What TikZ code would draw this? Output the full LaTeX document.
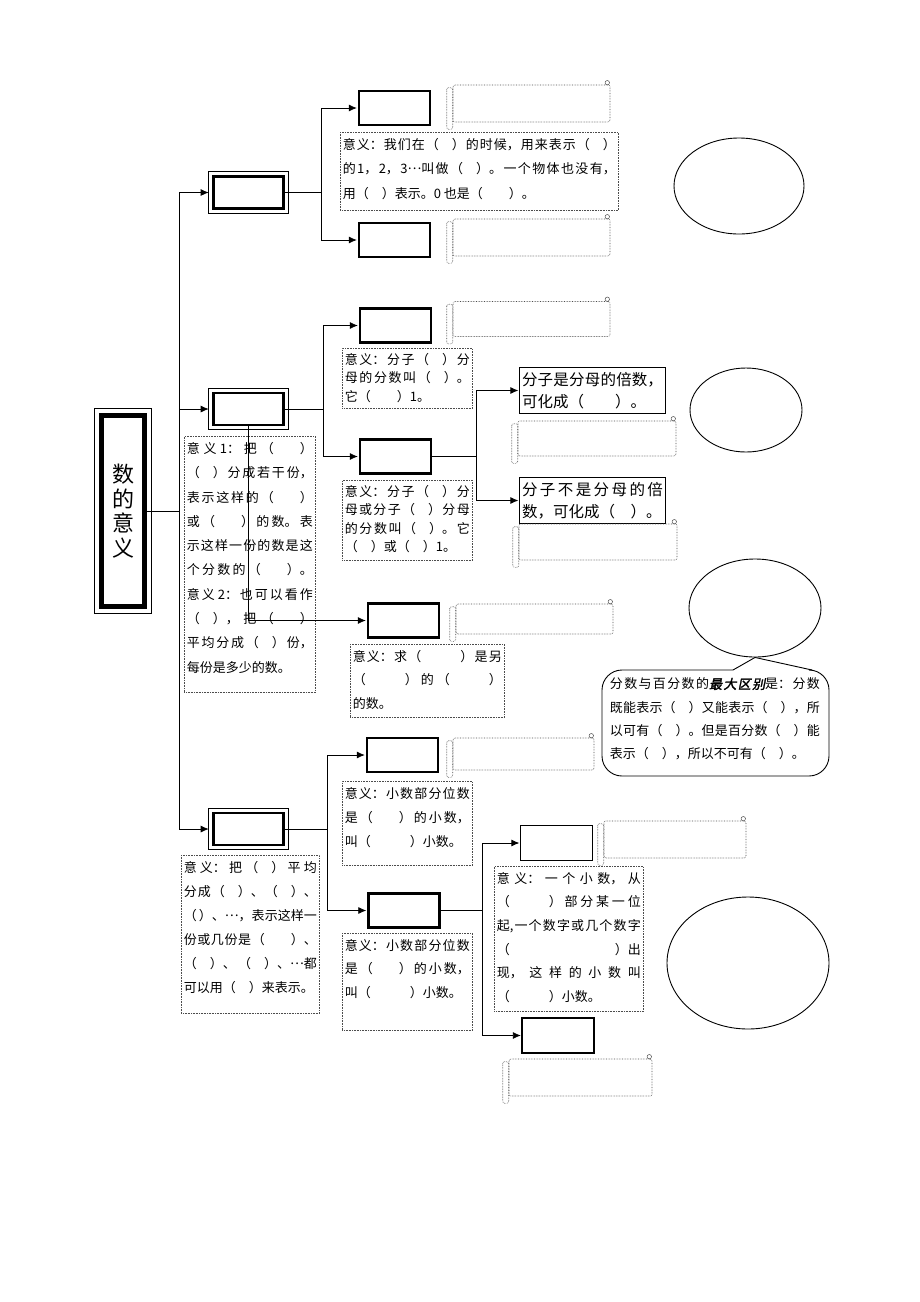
\documentclass[tikz,border=0pt]{standalone}
\usepackage{fontspec}
\newfontfamily\cjk{Noto Sans CJK SC}
\newfontfamily\cjkem{Noto Sans CJK SC}[FakeSlant=0.2,FakeBold=2]
\XeTeXlinebreaklocale "zh"
\XeTeXlinebreakskip=0pt plus 20pt
\usetikzlibrary{arrows.meta,shapes.geometric}
\begin{document}
\begin{tikzpicture}
	[x=1pt,y=-1pt,line width=0.8pt,>={Latex[length=8pt,width=7pt]},
	dbl/.style={draw,line width=2.4pt,minimum width=70pt,minimum height=32pt,inner sep=0pt},
	box/.style={draw,line width=2.4pt,minimum width=71pt,minimum height=34pt,inner sep=0pt},
	thinbox/.style={draw,line width=1.3pt,minimum width=72pt,minimum height=35pt,inner sep=0pt},
	hint/.style={draw,line width=1.3pt,minimum width=146pt,minimum height=46pt,inner xsep=2.5pt,font=\cjk\fontsize{15.5}{21.5}\selectfont},
	note/.style={draw=black!70,densely dotted,line width=0.6pt,anchor=north west,inner xsep=2.5pt,inner ysep=6pt,font=\cjk\fontsize{13}{24.3}\selectfont},
	scroll/.style={draw=black!70,densely dotted,line width=0.6pt,rounded corners=2pt,inner sep=0pt},
	oval/.style={draw,ellipse,line width=0.9pt,inner sep=0pt}]
\useasboundingbox (0,0) rectangle (920,1302);
% title
\node[draw,line width=3.4pt,minimum width=44pt,minimum height=192pt,inner sep=0pt,align=center,font=\cjk\fontsize{22}{24.5}\selectfont] (main) at (123,511) {数\\的\\意\\义};
\draw ([xshift=-4.5pt,yshift=-4.5pt]main.south west) rectangle ([xshift=4.5pt,yshift=4.5pt]main.north east);
\draw ([xshift=4pt,yshift=4pt]main.south west) rectangle ([xshift=-4pt,yshift=-4pt]main.north east);
% first level
\node[dbl] (k1) at (248.5,192.5) {};
\node[dbl] (k2) at (248.5,409) {};
\node[dbl] (k3) at (248.5,829) {};
\foreach \k in {k1,k2,k3}
	\draw[line width=0.7pt] ([xshift=-3.6pt,yshift=-3.6pt]\k.south west) rectangle ([xshift=3.6pt,yshift=3.6pt]\k.north east);
% second level
\node[box] (k1a) at (394.5,108) {};
\node[box] (k1b) at (394.5,240) {};
\node[box] (k2a) at (395.5,325.5) {};
\node[box] (k2b) at (395.5,456.5) {};
\node[box] (k2c) at (403.5,620.5) {};
\node[box] (k3a) at (402.5,755) {};
\node[box] (k3b) at (404,910.5) {};
\node[thinbox] (k3c) at (556.5,843) {};
\node[thinbox] (k3d) at (558,1035.5) {};
\node[hint] (fa) at (592.5,390.5) {\parbox{141pt}{分子是分母的倍数，\linebreak
可化成（　　）。}};
\node[hint] (fb) at (592.5,500.5) {\parbox{141pt}{分子不是分母的倍\linebreak
数，可化成（　）。}};
% notes
\node[note] (d1) at (340,132) {\parbox[t][66pt][t]{273pt}{意义：我们在（　）的时候，用来表示（　）\linebreak
的1，2，3\raisebox{0.3em}{…}叫做（　）。一个物体也没有，\linebreak
用（　）表示。0 也是（　　）。}};
\node[note,inner ysep=5pt,font=\cjk\fontsize{13}{18.3}\selectfont] (d2a) at (342,348) {\parbox[t][50pt][t]{125pt}{意义：分子（　）分\linebreak
母的分数叫（　）。\linebreak
它（　　）1。}};
\node[note,inner ysep=5pt,font=\cjk\fontsize{13}{18.3}\selectfont] (d2b) at (342,480) {\parbox[t][70pt][t]{125pt}{意义：分子（　）分\linebreak
母或分子（　）分母\linebreak
的分数叫（　）。它\linebreak
（　）或（　）1。}};
\node[note] (d2) at (184,436) {\parbox[t][244pt][t]{126pt}{意义 1：把（　　）\linebreak
（　）分成若干份，\linebreak
表示这样的（　　）\linebreak
或（　　）的数。表\linebreak
示这样一份的数是这\linebreak
个分数的（　　）。\linebreak
意义 2：也可以看作\linebreak
（　），把（　　）\linebreak
平均分成（　）份，\linebreak
每份是多少的数。}};
\node[note,font=\cjk\fontsize{13}{23.5}\selectfont] (d2c) at (350,644) {\parbox[t][61pt][t]{149pt}{意义：求（　　　）是另\linebreak
（　　　）的（　　　）\linebreak
的数。}};
\node[note,font=\cjk\fontsize{13}{24}\selectfont] (d3) at (181,855) {\parbox[t][146pt][t]{133pt}{意义：把（　）平均\linebreak
分成（　）、（　）、\linebreak
（\,）、\raisebox{0.3em}{…}，表示这样一\linebreak
份或几份是（　　）、\linebreak
（　）、（　）、\raisebox{0.3em}{…}都\linebreak
可以用（　）来表示。}};
\node[note,font=\cjk\fontsize{13}{24}\selectfont] (d3a) at (342,781) {\parbox[t][72pt][t]{125pt}{意义：小数部分位数\linebreak
是（　　）的小数，\linebreak
叫（　　　）小数。}};
\node[note,font=\cjk\fontsize{13}{23.5}\selectfont] (d3b) at (342,933) {\parbox[t][85pt][t]{125pt}{意义：小数部分位数\linebreak
是（　　）的小数，\linebreak
叫（　　　）小数。}};
\node[note,font=\cjk\fontsize{13}{23.6}\selectfont] (d3c) at (494,866) {\parbox[t][133pt][t]{144pt}{意义：一个小数，从\linebreak
（　　　）部分某一位\linebreak
起,一个数字或几个数字\linebreak
（\hfill）出\linebreak
现，这样的小数叫\linebreak
（　　　）小数。}};
% scrolls
\node[scroll,minimum width=157pt,minimum height=37pt] (s1a) at (531.5,103.5) {};
\node[scroll,minimum width=157pt,minimum height=37pt] (s1b) at (531.5,237.5) {};
\node[scroll,minimum width=157pt,minimum height=35pt] (s2a) at (531.5,319) {};
\node[scroll,minimum width=158pt,minimum height=35pt] (s2f1) at (597,438.5) {};
\node[scroll,minimum width=158pt,minimum height=36pt] (s2f2) at (598,542) {};
\node[scroll,minimum width=157pt,minimum height=30pt] (s2c) at (534.5,619) {};
\node[scroll,minimum width=141pt,minimum height=32pt] (s3a) at (523.5,754) {};
\node[scroll,minimum width=142pt,minimum height=37pt] (s3c) at (675,839.5) {};
\node[scroll,minimum width=143pt,minimum height=37pt] (s3d) at (580.5,1077.5) {};
\foreach \s in {s1a,s1b,s2a,s2f1,s2f2,s2c,s3a,s3c,s3d}{
	\draw[scroll] ([xshift=-6pt,yshift=-3pt]\s.north west) rectangle ([yshift=-7pt]\s.south west);
	\draw[black!70,line width=0.5pt] ([xshift=-3pt,yshift=2pt]\s.north east) circle (2.2pt);
}
% ovals
\node[oval,minimum width=130pt,minimum height=96pt] (e1) at (739,186) {};
\node[oval,minimum width=112pt,minimum height=84pt] (e2) at (746,410) {};
\node[oval,minimum width=132pt,minimum height=98pt] (e3) at (755,608) {};
\node[oval,minimum width=162pt,minimum height=132pt] (e4) at (748,963) {};
% callout
\draw[line width=0.9pt,rounded corners=20pt] (733,670) -- (602,670) -- (602,776) -- (829,776) -- (829,670) -- (812,670);
\draw[line width=0.9pt] (733,670) -- (e3.south) -- (812,670);
\node[anchor=north west,inner sep=0pt,font=\cjk\fontsize{13}{23.2}\selectfont] (cb) at (609.5,677.5) {\parbox{210pt}{分数与百分数的{\cjkem 最大区别}是：分数\linebreak
既能表示（　）又能表示（　），所\linebreak
以可有（　）。但是百分数（　）能\linebreak
表示（　），所以不可有（　）。}};
% connectors
\coordinate (trunk) at (179,511);
\draw (main.east) -- (trunk);
\foreach \k in {k1,k2,k3}
	\draw[->,shorten >=3.6pt] (trunk) |- (\k.west);
\draw (k1.east) -- ++(36.5,0) coordinate (j1);
\foreach \k in {k1a,k1b}
	\draw[->,shorten >=1pt] (j1) |- (\k.west);
\draw (k2.east) -- ++(38.5,0) coordinate (j2);
\foreach \k in {k2a,k2b}
	\draw[->,shorten >=1pt] (j2) |- (\k.west);
\draw (k2b.east) -- ++(44,0) coordinate (j2b);
\foreach \k in {fa,fb}
	\draw[->,shorten >=0.5pt] (j2b) |- (\k.west);
\draw[->,shorten >=1pt] (k2.south) |- (k2c.west);
\draw (k3.east) -- ++(42.5,0) coordinate (j3);
\foreach \k in {k3a,k3b}
	\draw[->,shorten >=1pt] (j3) |- (\k.west);
\draw (k3b.east) -- ++(41.5,0) coordinate (j3b);
\foreach \k in {k3c,k3d}
	\draw[->,shorten >=0.5pt] (j3b) |- (\k.west);
\end{tikzpicture}
\end{document}
